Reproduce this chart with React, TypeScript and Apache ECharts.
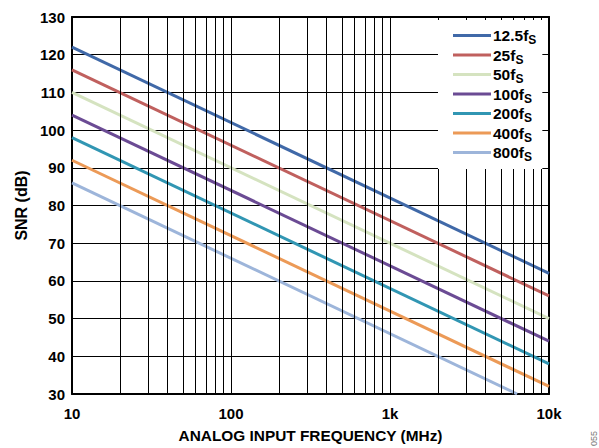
import React, { useEffect, useRef } from "react";
import * as echarts from "echarts";

const seriesNames = ["12.5fS", "25fS", "50fS", "100fS", "200fS", "400fS", "800fS"];
const seriesColors = ["#4069a8", "#c0605e", "#d5e3c0", "#6b4b94", "#3196b3", "#ec9a57", "#9db5da"];
const freqStart = [10, 10, 10, 10, 10, 10, 10];
const snrStart = [122, 116, 110, 104, 98, 92, 86];
const freqEnd = [10000, 10000, 10000, 10000, 10000, 10000, 6300];
const snrEnd = [62, 56, 50, 44, 38, 32, 30];
const gridFreqs = [
  20, 30, 40, 50, 60, 70, 80, 90, 100,
  200, 300, 400, 500, 600, 700, 800, 900, 1000,
  2000, 3000, 4000, 5000, 6000, 7000, 8000, 9000,
];
const xTickLabels: Record<number, string> = { 10: "10", 100: "100", 1000: "1k", 10000: "10k" };

const FONT = "'Liberation Sans', Arial, sans-serif";

export default function App() {
  const ref = useRef<HTMLDivElement>(null);
  useEffect(() => {
    document.body.style.margin = "0";
    if (!ref.current) return;
    const chart = echarts.init(ref.current, null, { renderer: "svg" });
    const series: any[] = seriesNames.map((name, i) => ({
      name,
      type: "line",
      data: [
        [freqStart[i], snrStart[i]],
        [freqEnd[i], snrEnd[i]],
      ],
      showSymbol: false,
      symbol: "none",
      lineStyle: { color: seriesColors[i], width: 3 },
      itemStyle: { color: seriesColors[i] },
      z: 3,
    }));
    series.push({
      name: "grid",
      type: "line",
      data: [],
      silent: true,
      z: 1,
      markLine: {
        silent: true,
        symbol: "none",
        animation: false,
        label: { show: false },
        lineStyle: { color: "#000", width: 1, type: "solid" },
        data: gridFreqs.map((f) => ({ xAxis: f })),
      },
    });
    const frameX = {
      type: "log",
      logBase: 10,
      min: 10,
      max: 10000,
      position: "top",
      axisLine: { show: true, onZero: false, lineStyle: { color: "#000", width: 2 } },
      axisTick: { show: false },
      axisLabel: { show: false },
      splitLine: { show: false },
    };
    const frameY = {
      type: "value",
      min: 30,
      max: 130,
      interval: 10,
      position: "right",
      axisLine: { show: true, onZero: false, lineStyle: { color: "#000", width: 2 } },
      axisTick: { show: false },
      axisLabel: { show: false },
      splitLine: { show: false },
    };
    chart.setOption({
      animation: false,
      backgroundColor: "#fff",
      grid: { left: 72, top: 17, right: 50, bottom: 51, containLabel: false },
      xAxis: [
        {
          type: "log",
          logBase: 10,
          min: 10,
          max: 10000,
          axisLine: { show: true, onZero: false, lineStyle: { color: "#000", width: 2 } },
          axisTick: { show: false },
          splitLine: { show: false },
          axisLabel: {
            color: "#000",
            fontFamily: FONT,
            fontWeight: "bold",
            fontSize: 15,
            margin: 12,
            formatter: (v: number) => xTickLabels[Math.round(v)] ?? "",
          },
          name: "ANALOG INPUT FREQUENCY (MHz)",
          nameLocation: "middle",
          nameGap: 34,
          nameTextStyle: { color: "#000", fontFamily: FONT, fontWeight: "bold", fontSize: 15.4 },
        },
        frameX,
      ],
      yAxis: [
        {
          type: "value",
          min: 30,
          max: 130,
          interval: 10,
          axisLine: { show: true, onZero: false, lineStyle: { color: "#000", width: 2 } },
          axisTick: { show: false },
          splitLine: { show: true, lineStyle: { color: "#000", width: 1 } },
          axisLabel: {
            color: "#000",
            fontFamily: FONT,
            fontWeight: "bold",
            fontSize: 15,
            margin: 7,
          },
          name: "SNR (dB)",
          nameLocation: "middle",
          nameGap: 43,
          nameTextStyle: { color: "#000", fontFamily: FONT, fontWeight: "bold", fontSize: 16 },
        },
        frameY,
      ],
      legend: {
        data: seriesNames,
        orient: "vertical",
        left: 438,
        top: 20,
        width: 105,
        padding: [5, 6, 6, 15],
        itemGap: -1.5,
        itemWidth: 38,
        itemHeight: 3,
        icon: "rect",
        backgroundColor: "#fff",
        z: 10,
        formatter: (name: string) => `{n|${name.slice(0, -1)}}{s|S}`,
        textStyle: {
          color: "#000",
          fontFamily: FONT,
          fontWeight: "bold",
          fontSize: 15,
          padding: [0, 0, 0, -3],
          rich: {
            n: { fontFamily: FONT, fontWeight: "bold", fontSize: 15.5, color: "#000", lineHeight: 18 },
            s: { fontFamily: FONT, fontWeight: "bold", fontSize: 12, color: "#000", padding: [9, 0, 0, 0], lineHeight: 18 },
          },
        },
      },
      graphic: [
        {
          type: "text",
          x: 598,
          y: 446,
          rotation: Math.PI / 2,
          style: {
            text: "055",
            fill: "#777",
            font: `9px ${FONT}`,
            textAlign: "left",
            textVerticalAlign: "bottom",
          },
        },
      ],
      series,
    });
    return () => chart.dispose();
  }, []);
  return <div ref={ref} style={{ width: 599, height: 448 }} />;
}
